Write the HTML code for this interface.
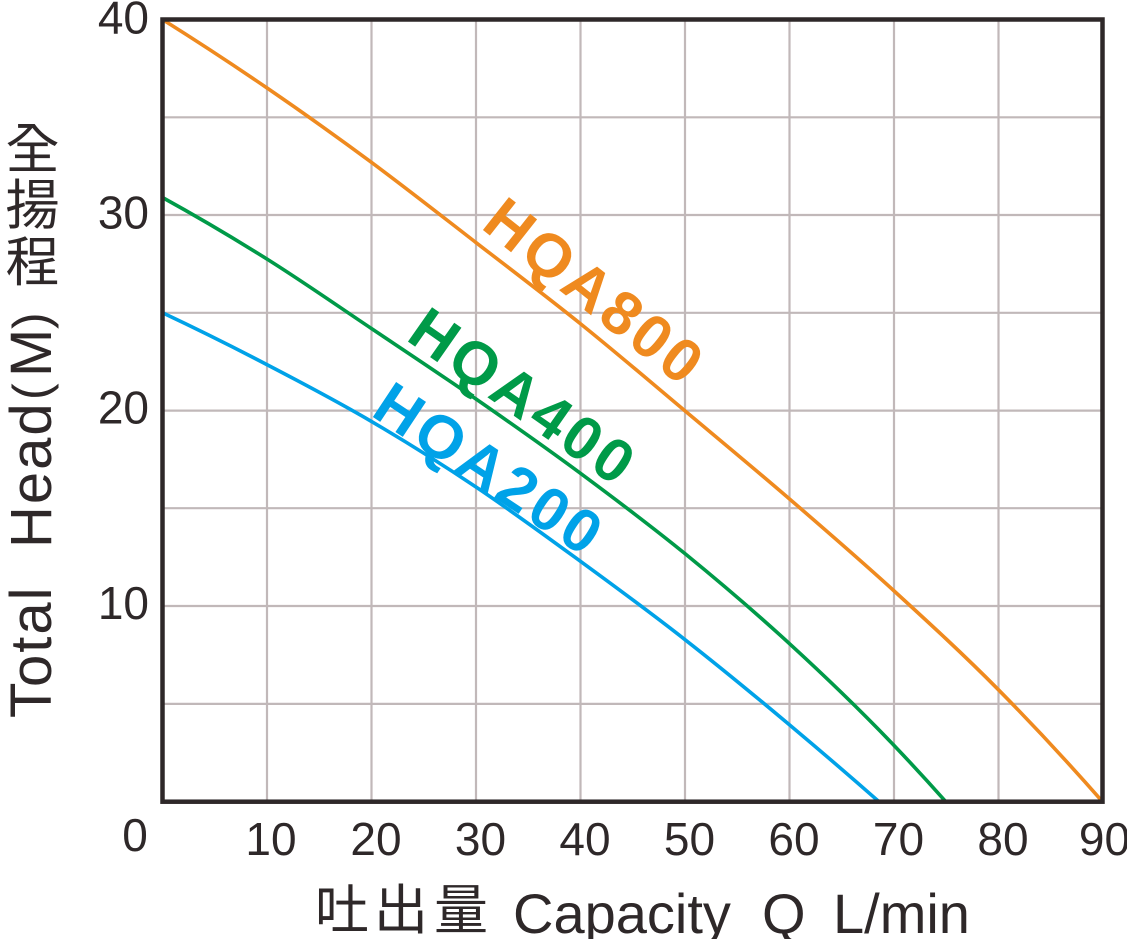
<!DOCTYPE html>
<html>
<head>
<meta charset="utf-8">
<style>
  html, body { margin:0; padding:0; background:#ffffff; }
  body { width:1127px; height:939px; overflow:hidden; }
  svg { display:block; }
  .lat { font-family: "Liberation Sans", "Noto Sans CJK TC", sans-serif; fill:#2e2829; }
  .cjk { font-family: "Noto Sans CJK TC", "Noto Sans CJK JP", "WenQuanYi Zen Hei", sans-serif; fill:#2e2829; }
  .lbl { font-family: "Liberation Sans", sans-serif; font-weight:bold; font-size:61px; letter-spacing:4px; }
</style>
</head>
<body>
<svg width="1127" height="939" viewBox="0 0 1127 939" xmlns="http://www.w3.org/2000/svg">
  <rect x="0" y="0" width="1127" height="939" fill="#ffffff"/>

  <!-- grid -->
  <g stroke="#c1b8b9" stroke-width="2.2" fill="none">
    <line x1="267" y1="19.5" x2="267" y2="801.7"/>
    <line x1="371.5" y1="19.5" x2="371.5" y2="801.7"/>
    <line x1="476" y1="19.5" x2="476" y2="801.7"/>
    <line x1="580.5" y1="19.5" x2="580.5" y2="801.7"/>
    <line x1="685" y1="19.5" x2="685" y2="801.7"/>
    <line x1="789.5" y1="19.5" x2="789.5" y2="801.7"/>
    <line x1="894" y1="19.5" x2="894" y2="801.7"/>
    <line x1="998.5" y1="19.5" x2="998.5" y2="801.7"/>

    <line x1="162.5" y1="117.3" x2="1102.5" y2="117.3"/>
    <line x1="162.5" y1="215" x2="1102.5" y2="215"/>
    <line x1="162.5" y1="312.8" x2="1102.5" y2="312.8"/>
    <line x1="162.5" y1="410.6" x2="1102.5" y2="410.6"/>
    <line x1="162.5" y1="508.2" x2="1102.5" y2="508.2"/>
    <line x1="162.5" y1="606" x2="1102.5" y2="606"/>
    <line x1="162.5" y1="703.9" x2="1102.5" y2="703.9"/>
  </g>

  <!-- curves -->
  <g fill="none" stroke-width="3.6" stroke-linecap="round">
    <path stroke="#ef8a1f" d="M162.5,19.5 C197.3,41.3 232.1,64.1 266.9,87.9 C301.7,111.7 336.6,136.6 371.4,162.3 C406.2,188.1 441.0,215.5 475.8,242.4 C510.6,269.3 545.5,295.6 580.3,323.6 C615.1,351.6 649.9,381.4 684.7,410.6 C719.5,439.8 754.3,468.6 789.1,498.6 C823.9,528.6 858.8,558.7 893.6,590.5 C928.4,622.3 963.2,654.1 998.0,689.3 C1032.8,724.5 1067.7,762.0 1102.5,801.7"/>
    <path stroke="#009a48" d="M162.5,197.5 C197.3,216.7 232.1,237.2 266.9,259.0 C301.7,280.8 336.6,305.2 371.4,328.5 C406.2,351.8 441.0,374.8 475.8,398.9 C510.6,423.0 545.5,447.5 580.3,473.2 C615.1,499.0 649.9,525.1 684.7,553.4 C719.5,581.8 754.3,611.4 789.1,643.3 C823.9,675.2 858.8,708.5 893.6,745.0 C911.0,763.2 928.4,782.1 945.8,801.7"/>
    <path stroke="#00a2e8" d="M162.5,312.8 C197.3,329.2 232.1,346.5 266.9,364.6 C301.7,382.7 336.6,401.0 371.4,421.4 C406.2,441.8 441.0,463.6 475.8,486.9 C510.6,510.2 545.5,535.8 580.3,561.2 C615.1,586.6 649.9,612.2 684.7,639.4 C719.5,666.6 754.3,695.3 789.1,724.5 C819.1,749.7 849.0,775.3 879.0,801.7"/>
  </g>

  <!-- frame -->
  <rect x="162.5" y="19.5" width="940" height="782.2" fill="none" stroke="#2e2829" stroke-width="4.5"/>

  <!-- curve labels -->
  <text class="lbl" fill="#ef8a1f" transform="translate(479.8,227.5) rotate(38.3)">HQA800</text>
  <text class="lbl" fill="#009a48" transform="translate(404.6,339.3) rotate(35)">HQA400</text>
  <text class="lbl" fill="#00a2e8" transform="translate(369.5,414.8) rotate(33.6)">HQA200</text>

  <!-- y tick labels -->
  <g class="lat" font-size="46" text-anchor="end">
    <text x="149" y="33.5">40</text>
    <text x="149" y="228.5">30</text>
    <text x="149" y="423.5">20</text>
    <text x="149" y="619">10</text>
  </g>

  <!-- x tick labels -->
  <g class="lat" font-size="46" text-anchor="middle">
    <text x="135" y="851">0</text>
    <text x="271" y="855">10</text>
    <text x="376" y="855">20</text>
    <text x="480.5" y="855">30</text>
    <text x="585" y="855">40</text>
    <text x="689.5" y="855">50</text>
    <text x="794" y="855">60</text>
    <text x="898.5" y="855">70</text>
    <text x="1003" y="855">80</text>
    <text x="1104.5" y="855">90</text>
  </g>

  <!-- y axis title -->
  <g class="lat" font-size="58">
    <text transform="translate(51,718) rotate(-90)" letter-spacing="2">Total</text>
    <text transform="translate(51,548) rotate(-90)" letter-spacing="2">Head</text>
    <text transform="translate(48,400) rotate(-90)" font-size="50">(</text>
    <text transform="translate(51,377) rotate(-90)">M</text>
    <text transform="translate(48,329) rotate(-90)" font-size="50">)</text>
  </g>
  <g class="cjk" font-size="54" text-anchor="middle">
    <text x="32.5" y="168">全</text>
    <text x="32.5" y="224">揚</text>
    <text x="32.5" y="281">程</text>
  </g>

  <!-- x axis title -->
  <g class="cjk" font-size="54" text-anchor="middle">
    <text x="342" y="929">吐</text>
    <text x="401" y="929">出</text>
    <text x="461" y="929">量</text>
  </g>
  <g class="lat" font-size="56">
    <text x="513" y="933">Capacity</text>
    <text x="762" y="933">Q</text>
    <text x="833" y="933">L/min</text>
  </g>
</svg>
</body>
</html>
